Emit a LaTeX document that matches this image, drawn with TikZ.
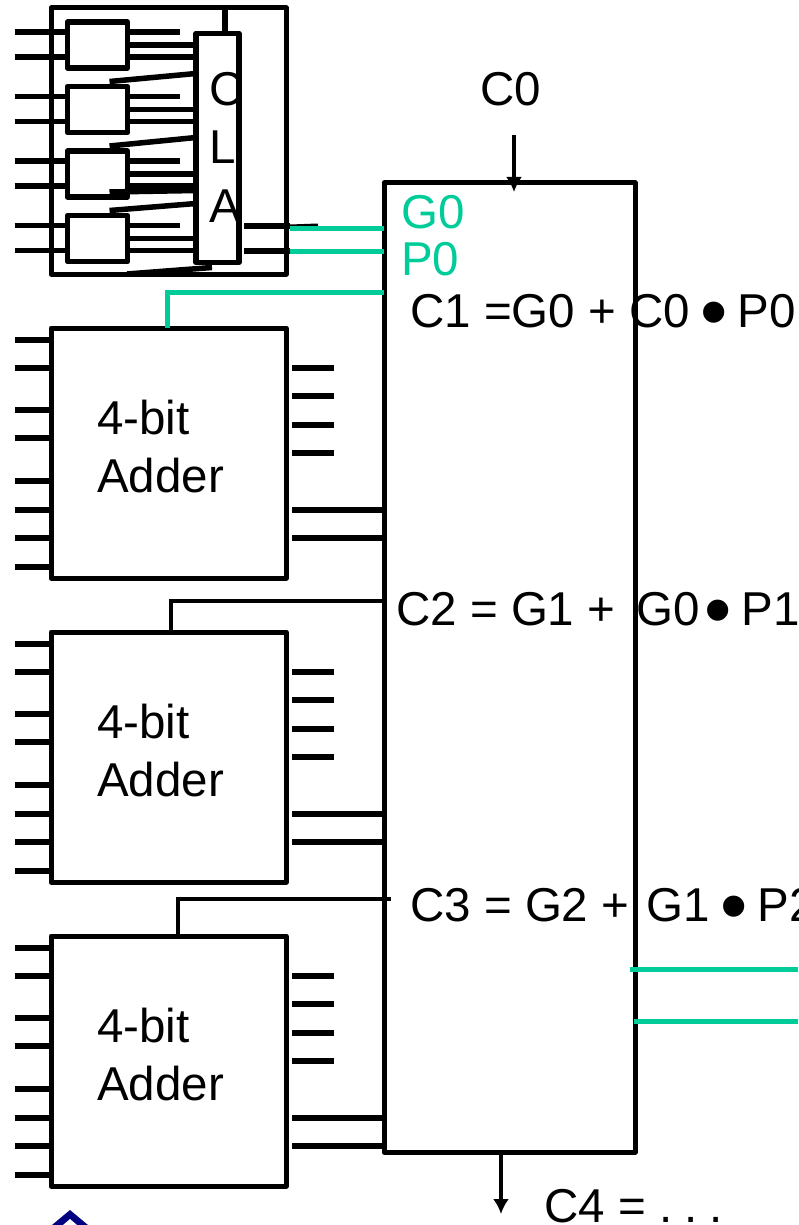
\documentclass[tikz,border=0pt]{standalone}
\usepackage{fontspec}
\setmainfont{Liberation Sans}
\usetikzlibrary{positioning,arrows.meta,calc}
\definecolor{BusGreen}{HTML}{00CC99}
\definecolor{LogoBlue}{HTML}{000080}
\newcommand{\dotop}{\kern-3pt\raisebox{-11pt}{\fontsize{78}{78}\selectfont\textbullet}\kern-3pt}
\tikzset{
  wire/.style={line width=5.5pt},
  thinwire/.style={line width=3.5pt},
  buswire/.style={line width=5pt,BusGreen},
  blockbox/.style={draw,line width=5pt,line join=round,outer sep=0pt,inner sep=0pt},
  smallbox/.style={blockbox,line width=5.5pt,minimum width=60pt,minimum height=46pt},
  txtlabel/.style={font=\fontsize{47.5}{58}\selectfont,inner sep=0pt,anchor=base west},
}
\begin{document}
\begin{tikzpicture}[x=1pt,y=-1pt]
\useasboundingbox (0,0) rectangle (798,1225);
% carry lookahead group
\node[blockbox,minimum width=235pt,minimum height=266pt] (group) at (168.5,141) {};
\node[smallbox] (sm1) at (97.5,45) {};
\node[smallbox,below=18.5pt of sm1] (sm2) {};
\node[smallbox,below=18.5pt of sm2] (sm3) {};
\node[smallbox,below=18.5pt of sm3] (sm4) {};
\node[blockbox,line width=5.5pt,minimum width=43pt,minimum height=229pt] (cla) at (217.5,148) {};
\foreach \i in {1,2,3,4} {
  \draw[wire] ($(sm\i.north west)+(-53,10)$) -- ($(sm\i.north west)+(0,10)$);
  \draw[wire] ($(sm\i.north west)+(-53,35)$) -- ($(sm\i.north west)+(0,35)$);
  \draw[wire] ($(sm\i.north east)+(0,10)$) -- ($(sm\i.north east)+(52,10)$);
  \draw[wire] (sm\i.east) -- (sm\i.east -| cla.west);
  \draw[wire] ($(sm\i.north east)+(0,35)$) -- ($(cla.west |- sm\i.north)+(0,35)$);
}
\draw[wire] ($(sm2.north west)+(42,-5)$) -- ($(cla.north west)+(0,40)$);
\draw[wire] ($(sm3.north west)+(42,-5)$) -- ($(cla.north west)+(0,104)$);
\draw[wire] ($(sm3.south west)+(42,-5)$) -- ($(cla.north west)+(0,157)$);
\draw[wire] ($(sm4.north west)+(42,-5)$) -- ($(cla.north west)+(0,170)$);
\draw[wire] (cla.north -| 225,0) -- (group.north -| 225,0);
\draw[wire] ($(group.south west)+(76,0)$) -- ($(cla.south west)+(16,5)$);
\coordinate (gout) at (290,226);
\coordinate (pout) at (290,251);
\draw[wire] (244,226) -- (gout);
\draw[wire] (244,251) -- (pout);
\draw[line width=3pt] (gout) -- (318,225);
% adders
\node[blockbox,minimum width=235pt,minimum height=250pt] (add1) at (168.5,453) {};
\node[blockbox,minimum width=235pt,minimum height=250pt,below=54pt of add1] (add2) {};
\node[blockbox,minimum width=235pt,minimum height=250pt,below=54pt of add2] (add3) {};
% lookahead unit
\node[blockbox,minimum width=251pt,minimum height=969pt] (main) at (509.5,667.5) {};
\foreach \i in {1,2,3} {
  \node[txtlabel] (addtxt\i) at ($(add\i.north west)+(46,106)$) {4-bit};
  \node[txtlabel] (addname\i) at ($(add\i.north west)+(46,164)$) {Adder};
  \foreach \y in {12,40,82,110,153,182,210,239}
    \draw[wire] ($(add\i.north west)+(-36,\y)$) -- ($(add\i.north west)+(0,\y)$);
  \foreach \y in {40,68,97,125}
    \draw[wire] ($(add\i.north east)+(6,\y)$) -- ($(add\i.north east)+(48,\y)$);
  \foreach \y in {182,210}
    \draw[wire] ($(add\i.north east)+(6,\y)$) -- ($(main.west |- add\i.north)+(0,\y)$);
}
% carry lines
\draw[buswire] (gout |- 0,228) -- (main.west |- 0,228);
\draw[buswire] (pout) -- (main.west |- pout);
\draw[buswire] (add1.north -| 167,0) -- (167,292) -- (main.west |- 0,292);
\draw[thinwire] (add2.north -| 171,0) -- (171,601) -- (main.west |- 0,601);
\draw[thinwire] (add3.north -| 178,0) -- (178,899) -- (391,899);
\coordinate (gnext) at (798,969);
\coordinate (pnext) at (798,1021);
\draw[buswire] (630,969) -- (gnext);
\draw[buswire] (634,1021) -- (pnext);
\coordinate (cin) at (514,135);
\coordinate (cintip) at (514,192);
\coordinate (cout) at (501,1214);
\draw[-{Latex[length=15pt,width=16pt]},line width=4pt] (cin) -- (cintip);
\draw[-{Latex[length=15pt,width=16pt]},line width=4pt] (main.south -| cout) -- (cout);
% texts
\node[txtlabel] (cla1) at (209,106) {C};
\node[txtlabel] (cla2) at (209,164) {L};
\node[txtlabel] (cla3) at (209,222) {A};
\node[txtlabel] (c0) at (480,106) {C0};
\node[txtlabel,BusGreen] (g0) at (401,228) {G0};
\node[txtlabel,BusGreen] (p0) at (401,275) {P0};
\node[txtlabel] (c1) at (410,327) {C1 =G0 + C0 \dotop\ P0};
\node[txtlabel] (c2) at (396,625) {C2 = G1 + \,G0\kern-6pt\ \dotop\ P1};
\node[txtlabel] (c3) at (410,921) {C3 = G2 + \kern4ptG1 \dotop\ P2};
\node[txtlabel] (c4) at (544,1222) {C4 = .\kern-1pt\ .\kern-1pt\ .};
% logo
\fill[LogoBlue] (70,1210) -- (88,1225) -- (52,1225) -- cycle;
\fill[white] (70,1219) -- (77,1225) -- (63,1225) -- cycle;
\end{tikzpicture}
\end{document}
